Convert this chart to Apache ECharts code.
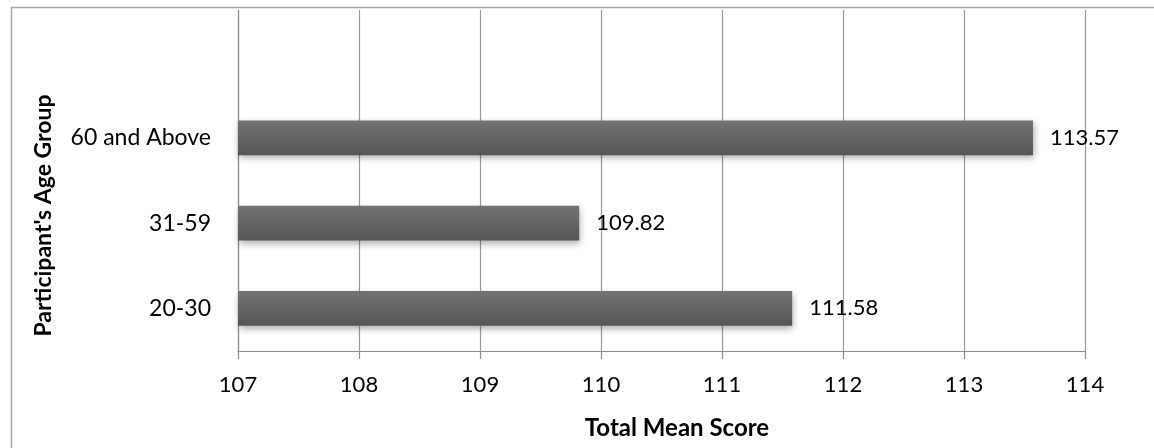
<!DOCTYPE html>
<html>
<head>
<meta charset="utf-8">
<script src="https://cdn.jsdelivr.net/npm/echarts@6/dist/echarts.min.js"></script>
<style>
html,body{margin:0;padding:0;background:#fff;}
#c{width:1154px;height:448px;}
</style>
</head>
<body>
<div id="c"></div>
<script>
var categories = ['20-30', '31-59', '60 and Above', ''];
var meanScores = [111.58, 109.82, 113.57, null];
var xTicks = { min: 107, max: 114, interval: 1 };
var xTitle = 'Total Mean Score';
var yTitle = "Participant's Age Group";

var chart = echarts.init(document.getElementById('c'), null, { renderer: 'canvas' });
var font = 'Lato, "Open Sans", sans-serif';
chart.setOption({
  animation: false,
  grid: { left: 238, right: 69, top: 10, bottom: 97, containLabel: false },
  graphic: [{
    type: 'rect', silent: true, z: -10,
    shape: { x: 11.5, y: 7.5, width: 1200, height: 500 },
    style: { fill: 'none', stroke: '#a6a6a6', lineWidth: 1.5 }
  }, {
    type: 'text', silent: true,
    x: 677, y: 428,
    style: { text: xTitle, font: 'bold 24px ' + font, fill: '#000', align: 'center', verticalAlign: 'middle' }
  }, {
    type: 'text', silent: true,
    x: 44, y: 215.5, rotation: Math.PI / 2,
    style: { text: yTitle, font: 'bold 23px ' + font, fill: '#000', align: 'center', verticalAlign: 'middle' }
  }],
  xAxis: {
    type: 'value',
    min: xTicks.min, max: xTicks.max, interval: xTicks.interval,
    axisLine: { show: true, lineStyle: { color: '#8c8c8c', width: 1.2 } },
    axisTick: { show: true, length: 8, lineStyle: { color: '#8c8c8c', width: 1.2 } },
    axisLabel: { fontFamily: font, fontSize: 22, color: '#000', margin: 23 },
    splitLine: { show: true, lineStyle: { color: '#999', width: 1.2 } }
  },
  yAxis: {
    type: 'category', data: categories,
    axisLine: { show: true, lineStyle: { color: '#8c8c8c', width: 1.2 } },
    axisTick: { show: false },
    axisLabel: { fontFamily: font, fontSize: 23, color: '#000', margin: 27 },
    splitLine: { show: false }
  },
  series: [{
    type: 'bar',
    data: meanScores,
    barWidth: '41%',
    itemStyle: {
      color: new echarts.graphic.LinearGradient(0, 0, 0, 1, [
        { offset: 0, color: '#747474' },
        { offset: 1, color: '#555555' }
      ]),
      shadowColor: 'rgba(0,0,0,0.35)', shadowBlur: 7, shadowOffsetY: 3, shadowOffsetX: 1
    },
    label: {
      show: true, position: 'right', distance: 17,
      fontFamily: font, fontSize: 22, color: '#000',
      formatter: function (p) { return p.value == null ? '' : p.value.toFixed(2); }
    }
  }]
});
</script>
</body>
</html>
